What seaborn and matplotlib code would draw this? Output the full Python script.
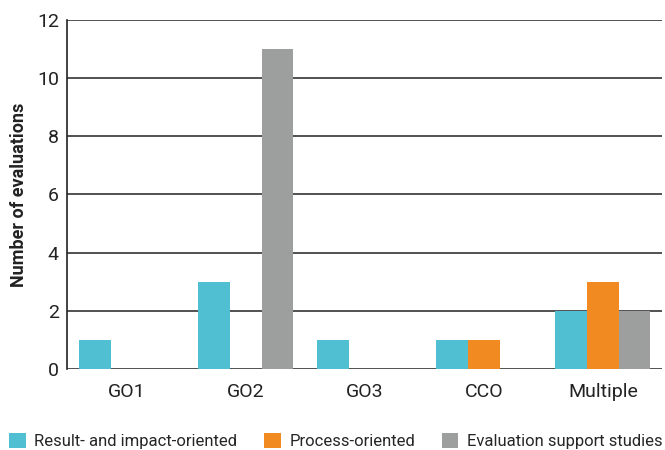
import matplotlib
matplotlib.use("Agg")
import matplotlib.pyplot as plt
from matplotlib.patches import Patch
import seaborn as sns
import pandas as pd

categories = ["GO1", "GO2", "GO3", "CCO", "Multiple"]
series_names = ["Result- and impact-oriented", "Process-oriented", "Evaluation support studies"]
result_impact = [1, 3, 1, 1, 2]
process = [0, 0, 0, 1, 3]
support = [0, 11, 0, 0, 2]
colors = ["#4FBFD1", "#F28A22", "#9D9E9E"]
y_ticks = [0, 2, 4, 6, 8, 10, 12]

df = pd.DataFrame({
    "category": categories * 3,
    "series": [series_names[0]] * 5 + [series_names[1]] * 5 + [series_names[2]] * 5,
    "value": result_impact + process + support,
})

sns.set_theme(style="white")
plt.rcParams["font.family"] = ["Roboto", "DejaVu Sans"]

fig = plt.figure(figsize=(6.65, 4.5), dpi=100)
ax = fig.add_axes([0.101, 0.18, 0.895, 0.7756])

sns.barplot(data=df, x="category", y="value", hue="series", order=categories,
            hue_order=series_names, palette=colors, width=0.8, saturation=1,
            linewidth=0, ax=ax, legend=False, zorder=3)

ax.set_ylim(0, 12)
ax.set_xlim(-0.5, 4.5)
ax.set_yticks(y_ticks)
ax.set_yticklabels([str(t) for t in y_ticks], fontsize=14, color="#222222")
ax.tick_params(axis="x", labelsize=14, colors="#222222", length=0, pad=10)
ax.tick_params(axis="y", length=0, pad=6)
ax.yaxis.grid(True, color="#333333", linewidth=1.2, zorder=0)
ax.set_axisbelow(True)
for side in ["top", "right", "bottom"]:
    ax.spines[side].set_visible(False)
ax.spines["left"].set_color("#222222")
ax.spines["left"].set_linewidth(1.2)
ax.set_xlabel("")
ax.set_ylabel("Number of evaluations", fontsize=13, fontweight="bold", color="#222222", labelpad=6)

handles = [Patch(facecolor=c, edgecolor="none", label=n) for c, n in zip(colors, series_names)]
fig.legend(handles=handles, loc="center", bbox_to_anchor=(0.505, 0.02), ncol=3,
           frameon=False, fontsize=12, handlelength=1.0, handleheight=1.0,
           handletextpad=0.5, columnspacing=1.6)

fig.savefig("out.png", dpi=100)
